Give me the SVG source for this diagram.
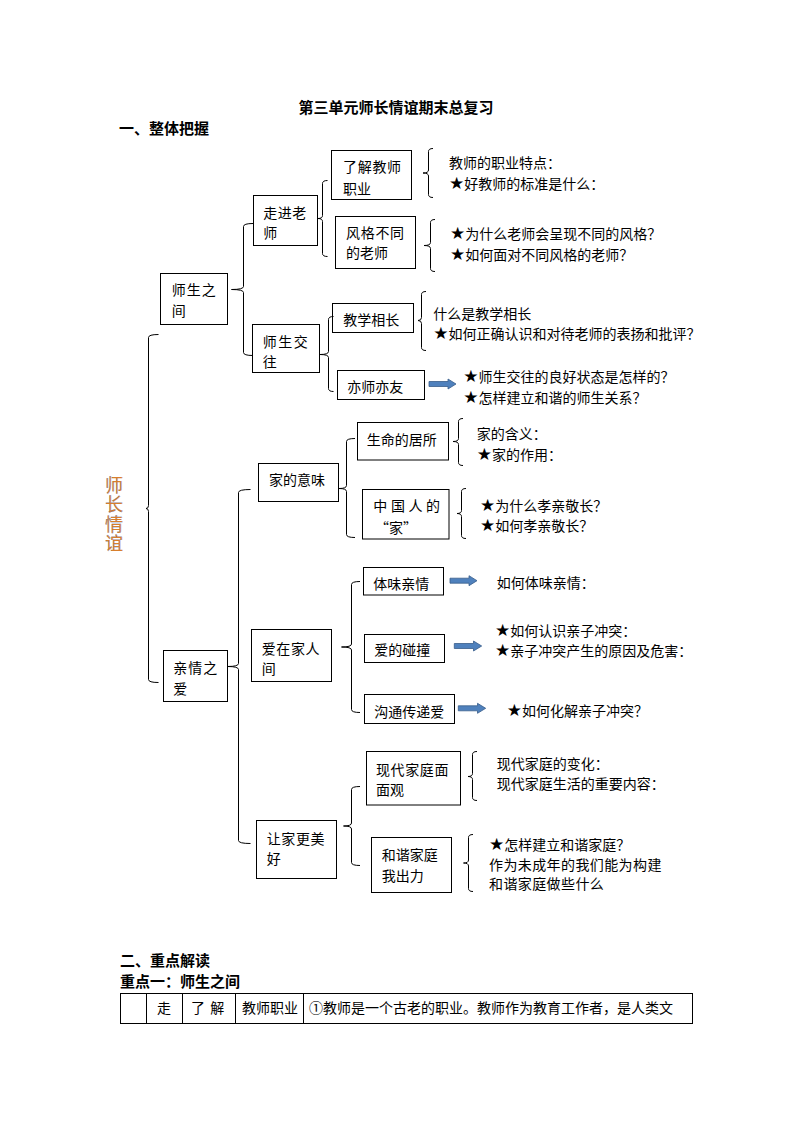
<svg xmlns="http://www.w3.org/2000/svg" width="794" height="1123" viewBox="0 0 794 1123">
<style>
.bx{fill:none;stroke:#000;stroke-width:1}
.br{fill:none;stroke:#000;stroke-width:1}
.t{font-family:"Noto Sans CJK SC","Noto Sans CJK TC",sans-serif;font-size:14px;fill:#000}
.s{font-family:"DejaVu Sans",sans-serif;font-size:17px}
.h{font-family:"Noto Sans CJK SC",sans-serif;font-size:15px;font-weight:bold;fill:#000}
.ar{fill:#4f81bd;stroke:#385d8a;stroke-width:0.8}
</style>
<rect width="794" height="1123" fill="#fff"/>

<text class="h" x="396" y="112.7" text-anchor="middle">第三单元师长情谊期末总复习</text>
<text class="h" x="119" y="134">一、整体把握</text>

<text id="vtitle" x="114" y="476" writing-mode="vertical-rl" font-family="Noto Sans CJK SC,sans-serif" font-size="18" letter-spacing="1.5" fill="#d97f2c" stroke="#3f5a9e" stroke-width="0.2">师长情谊</text>

<g id="connectors">
<path class="br" d="M158.5,334.5 Q148.5,334.5 148.5,337.5 V505.5 Q148.5,508.5 146,508.5 Q148.5,508.5 148.5,511.5 V679.5 Q148.5,682.5 158.5,682.5"/>
<path class="br" d="M253,223.5 Q243.5,223.5 243.5,226.5 V286.5 Q243.5,289.5 231.5,289.5 Q243.5,289.5 243.5,292.5 V352.5 Q243.5,355.5 253,355.5"/>
<path class="br" d="M250.5,489.5 Q238.5,489.5 238.5,492.5 V663.5 Q238.5,666.5 227.5,666.5 Q238.5,666.5 238.5,669.5 V840.5 Q238.5,843.5 250.5,843.5"/>
<path class="br" d="M327.5,180.5 Q322.5,180.5 322.5,183.5 V215.5 Q322.5,218.5 318,218.5 Q322.5,218.5 322.5,221.5 V253.5 Q322.5,256.5 327.5,256.5"/>
<path class="br" d="M333.5,316.5 Q328.5,316.5 328.5,319.5 V351.5 Q328.5,354.5 320,354.5 Q328.5,354.5 328.5,357.5 V388.5 Q328.5,391.5 333.5,391.5"/>
<path class="br" d="M355,438.5 Q346.5,438.5 346.5,441.5 V485.5 Q346.5,488.5 339,488.5 Q346.5,488.5 346.5,491.5 V534.5 Q346.5,537.5 355,537.5"/>
<path class="br" d="M360,581.5 Q351.5,581.5 351.5,584.5 V644 Q351.5,647 341.5,647 Q351.5,647 351.5,650 V709.5 Q351.5,712.5 360,712.5"/>
<path class="br" d="M360,786.5 Q351.5,786.5 351.5,789.5 V823 Q351.5,826 343.5,826 Q351.5,826 351.5,829 V862.5 Q351.5,865.5 360,865.5"/>
<path class="br" d="M433,148.5 Q428.5,148.5 428.5,151.5 V170 Q428.5,173 423,173 Q428.5,173 428.5,176 V194.5 Q428.5,197.5 433,197.5"/>
<path class="br" d="M435,219.5 Q430.5,219.5 430.5,222.5 V242.5 Q430.5,245.5 424,245.5 Q430.5,245.5 430.5,248.5 V268.5 Q430.5,271.5 435,271.5"/>
<path class="br" d="M426,291.5 Q421.5,291.5 421.5,294.5 V317.5 Q421.5,320.5 418,320.5 Q421.5,320.5 421.5,323.5 V347.5 Q421.5,350.5 426,350.5"/>
<path class="br" d="M463,418.5 Q458.5,418.5 458.5,421.5 V438.5 Q458.5,441.5 453,441.5 Q458.5,441.5 458.5,444.5 V462.5 Q458.5,465.5 463,465.5"/>
<path class="br" d="M466,488.5 Q461.5,488.5 461.5,491.5 V510.5 Q461.5,513.5 457,513.5 Q461.5,513.5 461.5,516.5 V535.5 Q461.5,538.5 466,538.5"/>
<path class="br" d="M477,751.5 Q472.5,751.5 472.5,754.5 V773.5 Q472.5,776.5 468,776.5 Q472.5,776.5 472.5,779.5 V797.5 Q472.5,800.5 477,800.5"/>
<path class="br" d="M473,834.5 Q468.5,834.5 468.5,837.5 V860 Q468.5,863 463.5,863 Q468.5,863 468.5,866 V888.5 Q468.5,891.5 473,891.5"/>
<path class="ar" d="M429,381.5 H448 V379 L456,384 L448,389 V386.5 H429 Z"/>
<path class="ar" d="M450,578.2 H469 V575.7 L477,580.7 L469,585.7 V583.2 H450 Z"/>
<path class="ar" d="M454.3,643.5 H473.5 V641 L481.7,646 L473.5,651 V648.5 H454.3 Z"/>
<path class="ar" d="M458.3,705.8 H477.5 V703.3 L485.7,708.3 L477.5,713.3 V710.8 H458.3 Z"/>
</g>

<g id="n-shisheng"><rect class="bx" x="160.5" y="273.5" width="67" height="51"/><text class="t" x="171.7" y="295.3" letter-spacing="1">师生之</text><text class="t" x="171.7" y="316">间</text></g>
<g id="n-zoujin"><rect class="bx" x="253.5" y="195.5" width="64" height="50"/><text class="t" x="263.3" y="218" letter-spacing="0.5">走进老</text><text class="t" x="263.3" y="238">师</text></g>
<g id="n-liaojie"><rect class="bx" x="331.5" y="150.5" width="80" height="49"/><text class="t" x="343" y="172.3" letter-spacing="0.7">了解教师</text><text class="t" x="343" y="193.6">职业</text></g>
<g id="t-liaojie"><text class="t" x="449" y="167.8">教师的职业特点：</text><text class="t" x="449" y="188.8"><tspan class="s">★</tspan><tspan>好教师的标准是什么：</tspan></text></g>
<g id="n-fengge"><rect class="bx" x="335.5" y="216.5" width="80" height="52"/><text class="t" x="346" y="238" letter-spacing="0.7">风格不同</text><text class="t" x="346" y="258">的老师</text></g>
<g id="t-fengge"><text class="t" x="450" y="238.6"><tspan class="s">★</tspan><tspan>为什么老师会呈现不同的风格？</tspan></text><text class="t" x="450" y="260.3"><tspan class="s">★</tspan><tspan>如何面对不同风格的老师？</tspan></text></g>
<g id="n-jiaowang"><rect class="bx" x="252.5" y="324.5" width="67" height="48"/><text class="t" x="262.7" y="347" letter-spacing="1.5">师生交</text><text class="t" x="262.7" y="367">往</text></g>
<g id="n-jiaoxue"><rect class="bx" x="332.5" y="303.5" width="81" height="29"/><text class="t" x="343.3" y="324.6">教学相长</text></g>
<g id="t-jiaoxue"><text class="t" x="433.3" y="319.3">什么是教学相长</text><text class="t" x="433.3" y="339.3"><tspan class="s">★</tspan><tspan>如何正确认识和对待老师的表扬和批评？</tspan></text></g>
<g id="n-yishi"><rect class="bx" x="337.5" y="370.5" width="87" height="29"/><text class="t" x="347.3" y="392">亦师亦友</text></g>
<g id="t-yishi"><text class="t" x="463.3" y="382"><tspan class="s">★</tspan><tspan>师生交往的良好状态是怎样的？</tspan></text><text class="t" x="463.3" y="402.6"><tspan class="s">★</tspan><tspan>怎样建立和谐的师生关系？</tspan></text></g>

<g id="n-jiade"><rect class="bx" x="258.5" y="463.5" width="80" height="38"/><text class="t" x="269" y="485.3">家的意味</text></g>
<g id="n-shengming"><rect class="bx" x="357.5" y="422.5" width="91" height="37.5"/><text class="t" x="366.7" y="444.6">生命的居所</text></g>
<g id="t-shengming"><text class="t" x="476.7" y="438.6">家的含义：</text><text class="t" x="476.7" y="460.3"><tspan class="s">★</tspan><tspan>家的作用：</tspan></text></g>
<g id="n-zhongguo"><rect class="bx" x="362.5" y="489.5" width="86.5" height="49.5"/><text class="t" x="373.3" y="511.3" letter-spacing="3.6">中国人的</text><text class="t" x="375" y="533">“家”</text></g>
<g id="t-zhongguo"><text class="t" x="480" y="511.3"><tspan class="s">★</tspan><tspan>为什么孝亲敬长？</tspan></text><text class="t" x="480" y="531.3"><tspan class="s">★</tspan><tspan>如何孝亲敬长？</tspan></text></g>
<g id="n-qinqing"><rect class="bx" x="163.5" y="650.5" width="64" height="51"/><text class="t" x="173.3" y="672.6" letter-spacing="1">亲情之</text><text class="t" x="173.3" y="693.6">爱</text></g>
<g id="n-aizai"><rect class="bx" x="251.5" y="629.5" width="80" height="52"/><text class="t" x="261.7" y="653.6" letter-spacing="0.6">爱在家人</text><text class="t" x="261.7" y="673.6">间</text></g>
<g id="n-tiwei"><rect class="bx" x="363.5" y="567.5" width="80" height="27.5"/><text class="t" x="373.3" y="588.6">体味亲情</text></g>
<g id="t-tiwei"><text class="t" x="496.7" y="588">如何体味亲情：</text></g>
<g id="n-pengzhuang"><rect class="bx" x="364.5" y="634.5" width="80" height="28"/><text class="t" x="374.3" y="655.3">爱的碰撞</text></g>
<g id="t-pengzhuang"><text class="t" x="495" y="636"><tspan class="s">★</tspan><tspan>如何认识亲子冲突：</tspan></text><text class="t" x="495" y="656"><tspan class="s">★</tspan><tspan>亲子冲突产生的原因及危害：</tspan></text></g>
<g id="n-goutong"><rect class="bx" x="364.5" y="694.5" width="90" height="29"/><text class="t" x="374.3" y="717">沟通传递爱</text></g>
<g id="t-goutong"><text class="t" x="506.7" y="716"><tspan class="s">★</tspan><tspan>如何化解亲子冲突？</tspan></text></g>
<g id="n-rangjia"><rect class="bx" x="256.5" y="820.5" width="80" height="58"/><text class="t" x="266.7" y="843.6" letter-spacing="0.6">让家更美</text><text class="t" x="266.7" y="863.6">好</text></g>
<g id="n-xiandai"><rect class="bx" x="366.5" y="751.5" width="94" height="53.5"/><text class="t" x="376" y="774.6" letter-spacing="0.6">现代家庭面</text><text class="t" x="376" y="795.3">面观</text></g>
<g id="t-xiandai"><text class="t" x="496.7" y="768.6">现代家庭的变化：</text><text class="t" x="496.7" y="789.3">现代家庭生活的重要内容：</text></g>
<g id="n-hexie"><rect class="bx" x="371.5" y="837.5" width="80" height="55"/><text class="t" x="381.7" y="860.3">和谐家庭</text><text class="t" x="381.7" y="881.3">我出力</text></g>
<g id="t-hexie"><text class="t" x="489" y="850.3"><tspan class="s">★</tspan><tspan>怎样建立和谐家庭？</tspan></text><text class="t" x="489" y="870.3" letter-spacing="0.4">作为未成年的我们能为构建</text><text class="t" x="489" y="889.3" letter-spacing="0.4">和谐家庭做些什么</text></g>

<text class="h" x="120" y="965.5">二、重点解读</text>
<text class="h" x="120" y="986.5">重点一：师生之间</text>
<g id="table">
<rect class="bx" x="120.5" y="993.5" width="572" height="30"/>
<path class="br" d="M146.5,993.5 V1023.5 M182.5,993.5 V1023.5 M235.5,993.5 V1023.5 M303.5,993.5 V1023.5"/>
<text class="t" x="157" y="1013.3">走</text>
<text class="t" x="191" y="1013.3" letter-spacing="1">了 解</text>
<text class="t" x="242" y="1013.3">教师职业</text>
<text class="t" x="309" y="1013.3">①教师是一个古老的职业。教师作为教育工作者，是人类文</text>
</g>
</svg>
